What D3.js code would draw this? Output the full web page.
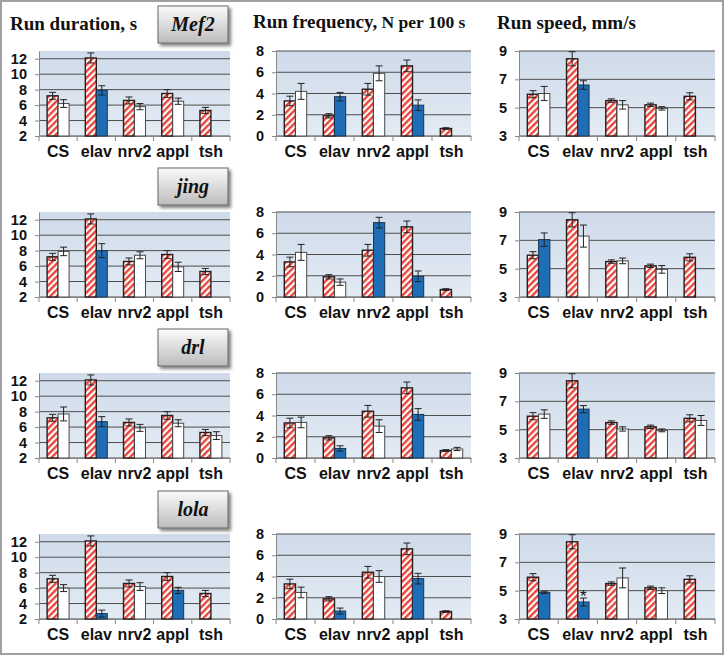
<!DOCTYPE html>
<html><head><meta charset="utf-8">
<script src="https://cdn.jsdelivr.net/npm/d3@7"></script>
<style>body{margin:0;background:#fff}svg{display:block}</style>
</head><body><svg id="c" width="725" height="656"></svg>
<script>
// ---------------- DATA ----------------
const categories = ["CS","elav","nrv2","appl","tsh"];
const genes = ["Mef2","jing","drl","lola"];
const metricTitles = ["Run duration, s","Run frequency,","Run speed, mm/s"];
const metricSubtitles = ["","N per 100 s",""];
const durationTicks = [2,4,6,8,10,12];
const frequencyTicks = [0,2,4,6,8];
const speedTicks = [3,5,7,9];
const durationDomain = [2,13];
const frequencyDomain = [0,8];
const speedDomain = [3,9];

// control (hatched) means and errors
const durationControl = [7.2,12.1,6.6,7.5,5.3];
const durationControlErr = [0.45,0.65,0.45,0.5,0.4];
const frequencyControl = [3.3,1.9,4.4,6.6,0.7];
const frequencyControlErr = [0.45,0.2,0.55,0.55,0.08];
const speedControl = [5.95,8.45,5.5,5.2,5.8];
const speedControlErr = [0.25,0.5,0.12,0.12,0.25];

// knockdown means / errors / significance (1 = blue)
const durationMef2 = [6.2,7.9,5.8,6.5,null];
const durationMef2Err = [0.5,0.6,0.4,0.4,null];
const durationMef2Sig = [0,1,0,0,0];
const durationJing = [7.9,8.0,7.4,5.9,null];
const durationJingErr = [0.55,0.9,0.45,0.6,null];
const durationJingSig = [0,1,0,0,0];
const durationDrl = [7.7,6.7,5.9,6.5,4.9];
const durationDrlErr = [0.9,0.65,0.45,0.45,0.5];
const durationDrlSig = [0,1,0,0,0];
const durationLola = [6.0,2.7,6.2,5.7,null];
const durationLolaErr = [0.45,0.45,0.5,0.4,null];
const durationLolaSig = [0,1,0,1,0];

const frequencyMef2 = [4.2,3.7,5.9,2.9,null];
const frequencyMef2Err = [0.75,0.4,0.7,0.5,null];
const frequencyMef2Sig = [0,1,0,1,0];
const frequencyJing = [4.2,1.4,7.0,1.95,null];
const frequencyJingErr = [0.75,0.3,0.5,0.5,null];
const frequencyJingSig = [0,0,1,1,0];
const frequencyDrl = [3.35,0.9,3.0,4.1,0.85];
const frequencyDrlErr = [0.5,0.25,0.6,0.55,0.15];
const frequencyDrlSig = [0,1,0,1,0];
const frequencyLola = [2.5,0.75,4.0,3.8,null];
const frequencyLolaErr = [0.5,0.28,0.55,0.5,null];
const frequencyLolaSig = [0,1,0,1,0];

const speedMef2 = [6.0,6.6,5.2,4.95,null];
const speedMef2Err = [0.5,0.3,0.3,0.12,null];
const speedMef2Sig = [0,1,0,0,0];
const speedJing = [7.05,7.3,5.55,4.95,null];
const speedJingErr = [0.47,0.78,0.2,0.27,null];
const speedJingSig = [1,0,0,0,0];
const speedDrl = [6.1,6.45,5.05,4.95,5.65];
const speedDrlErr = [0.3,0.25,0.15,0.1,0.35];
const speedDrlSig = [0,1,0,0,0];
const speedLola = [4.88,4.2,5.9,5.0,null];
const speedLolaErr = [0.08,0.28,0.7,0.2,null];
const speedLolaSig = [1,1,0,0,0];

const starMarks = [{gene:"lola", metric:2, category:"elav"}];

// ---------------- BUILD TABLES ----------------
const metrics = [
  {ticks:durationTicks, domain:durationDomain, ctrl:durationControl, ctrlErr:durationControlErr,
   exp:[durationMef2,durationJing,durationDrl,durationLola],
   err:[durationMef2Err,durationJingErr,durationDrlErr,durationLolaErr],
   sig:[durationMef2Sig,durationJingSig,durationDrlSig,durationLolaSig]},
  {ticks:frequencyTicks, domain:frequencyDomain, ctrl:frequencyControl, ctrlErr:frequencyControlErr,
   exp:[frequencyMef2,frequencyJing,frequencyDrl,frequencyLola],
   err:[frequencyMef2Err,frequencyJingErr,frequencyDrlErr,frequencyLolaErr],
   sig:[frequencyMef2Sig,frequencyJingSig,frequencyDrlSig,frequencyLolaSig]},
  {ticks:speedTicks, domain:speedDomain, ctrl:speedControl, ctrlErr:speedControlErr,
   exp:[speedMef2,speedJing,speedDrl,speedLola],
   err:[speedMef2Err,speedJingErr,speedDrlErr,speedLolaErr],
   sig:[speedMef2Sig,speedJingSig,speedDrlSig,speedLolaSig]}
];

// ---------------- LAYOUT ----------------
const colLeft = [39,276,519], colRight = [230,471,715];
const rowBottom = [136,297,458,619];
const plotH = 85;
const boxTop = [6,168,329,491];
const titleX = [10,253,497], titleY = [30,28,29];

const svg = d3.select("#c");
const defs = svg.append("defs");
const pat = defs.append("pattern").attr("id","hatch").attr("patternUnits","userSpaceOnUse")
  .attr("width",4.6).attr("height",4.6).attr("patternTransform","rotate(45)");
pat.append("rect").attr("width",4.6).attr("height",4.6).attr("fill","#fff");
pat.append("rect").attr("width",2.4).attr("height",4.6).attr("fill","#e8463d");
const bg = defs.append("linearGradient").attr("id","plotbg").attr("x1",0).attr("y1",0).attr("x2",0).attr("y2",1);
bg.append("stop").attr("offset","0%").attr("stop-color","#cfdbea");
bg.append("stop").attr("offset","100%").attr("stop-color","#e3ebf4");
const bx = defs.append("linearGradient").attr("id","boxbg").attr("x1",0).attr("y1",0).attr("x2",0).attr("y2",1);
bx.append("stop").attr("offset","0%").attr("stop-color","#fbfbfb");
bx.append("stop").attr("offset","100%").attr("stop-color","#bcbcbc");
const f = defs.append("filter").attr("id","shadow").attr("x","-20%").attr("y","-20%").attr("width","150%").attr("height","170%");
f.append("feDropShadow").attr("dx",2.5).attr("dy",2.5).attr("stdDeviation",1.4)
  .attr("flood-color","#000").attr("flood-opacity",0.5);

svg.append("rect").attr("x",0).attr("y",0).attr("width",725).attr("height",656).attr("fill","#fff");
svg.append("rect").attr("x",1).attr("y",1).attr("width",722).attr("height",653)
  .attr("fill","none").attr("stroke","#a0a0a0").attr("stroke-width",2);

const tickFont = "'Liberation Sans', Arial, sans-serif";
const serif = "'Liberation Serif', 'Times New Roman', serif";

// titles
metricTitles.forEach((t,m) => {
  const tx = svg.append("text").attr("x",titleX[m]).attr("y",titleY[m])
    .attr("font-family",serif).attr("font-weight","bold").attr("font-size",19).attr("fill","#111")
    .text(t);
  if (metricSubtitles[m]) tx.append("tspan").attr("font-size",17.5).text(" " + metricSubtitles[m]);
});

genes.forEach((gene,g) => {
  // gene label box
  svg.append("rect").attr("x",158).attr("y",boxTop[g]).attr("width",70).attr("height",37)
    .attr("fill","url(#boxbg)").attr("stroke","#666").attr("stroke-width",1).attr("filter","url(#shadow)");
  svg.append("text").attr("x",193).attr("y",boxTop[g]+25).attr("text-anchor","middle")
    .attr("font-family",serif).attr("font-style","italic").attr("font-weight","bold")
    .attr("font-size",20).attr("fill","#111").text(gene);

  metrics.forEach((M,m) => {
    const L = colLeft[m], R = colRight[m], B = rowBottom[g], T = B - plotH;
    const y = d3.scaleLinear().domain(M.domain).range([B,T]);
    const x0 = d3.scaleBand().domain(categories).range([L,R]).padding(0);
    const x1 = d3.scaleBand().domain(["ctrl","exp"]).range([0,x0.bandwidth()]).paddingInner(0).paddingOuter(0.74);
    const p = svg.append("g");
    p.append("rect").attr("x",L).attr("y",T).attr("width",R-L).attr("height",plotH).attr("fill","url(#plotbg)");
    p.selectAll("line.grid").data(M.ticks).join("line").attr("class","grid")
      .attr("x1",L).attr("x2",R).attr("y1",d=>y(d)).attr("y2",d=>y(d))
      .attr("stroke","#4d4d4d").attr("stroke-width",1);
    // y axis
    const ya = p.append("g").attr("transform",`translate(${L},0)`)
      .call(d3.axisLeft(y).tickValues(M.ticks).tickFormat(d3.format("d")).tickSize(4).tickSizeOuter(0).tickPadding(8));
    ya.select(".domain").attr("stroke","#888");
    ya.selectAll(".tick line").attr("stroke","#888");
    ya.selectAll("text").attr("font-family",tickFont).attr("font-weight","bold").attr("font-size",14.5).attr("fill","#111");
    // x axis
    const xa = p.append("g").attr("transform",`translate(0,${B})`)
      .call(d3.axisBottom(x0).tickSize(0).tickPadding(10));
    xa.select(".domain").attr("stroke","#888");
    xa.selectAll("text").attr("font-family",tickFont).attr("font-weight","bold").attr("font-size",16).attr("fill","#111");
    const bounds = categories.map(c=>x0(c)).concat([R]);
    p.selectAll("line.xt").data(bounds).join("line").attr("class","xt")
      .attr("x1",d=>d).attr("x2",d=>d).attr("y1",B).attr("y2",B+5).attr("stroke","#888");

    const rows = [];
    categories.forEach((c,i) => {
      rows.push({c, key:"ctrl", v:M.ctrl[i], e:M.ctrlErr[i], kind:"hatch"});
      if (M.exp[g][i] != null)
        rows.push({c, key:"exp", v:M.exp[g][i], e:M.err[g][i], kind: M.sig[g][i] ? "blue" : "white"});
    });
    const bw = x1.bandwidth();
    p.selectAll("rect.bar").data(rows).join("rect").attr("class","bar")
      .attr("x",d=>x0(d.c)+x1(d.key)).attr("width",bw)
      .attr("y",d=>y(d.v)).attr("height",d=>B-y(d.v))
      .attr("fill",d=>d.kind==="hatch"?"url(#hatch)":d.kind==="blue"?"#1f6db4":"#fff")
      .attr("stroke",d=>d.kind==="hatch"?"#2a1d1d":d.kind==="blue"?"#1b3350":"#4a4a4a")
      .attr("stroke-width",d=>d.kind==="hatch"?1.4:1);
    const eb = p.selectAll("g.err").data(rows).join("g").attr("class","err")
      .attr("transform",d=>`translate(${x0(d.c)+x1(d.key)+bw/2},0)`);
    eb.append("line").attr("y1",d=>y(d.v-d.e)).attr("y2",d=>y(d.v+d.e)).attr("stroke","#222");
    eb.append("line").attr("x1",-3.5).attr("x2",3.5).attr("y1",d=>y(d.v+d.e)).attr("y2",d=>y(d.v+d.e)).attr("stroke","#222");
    eb.append("line").attr("x1",-3.5).attr("x2",3.5).attr("y1",d=>y(d.v-d.e)).attr("y2",d=>y(d.v-d.e)).attr("stroke","#222");

    starMarks.filter(s=>s.gene===gene && s.metric===m).forEach(s => {
      const i = categories.indexOf(s.category);
      const v = M.exp[g][i] + M.err[g][i];
      p.append("text").attr("x",x0(s.category)+x1("exp")+bw/2).attr("y",y(v)+4)
        .attr("text-anchor","middle").attr("font-family",tickFont).attr("font-size",17).attr("fill","#111").text("*");
    });
  });
});
</script>
</body></html>
